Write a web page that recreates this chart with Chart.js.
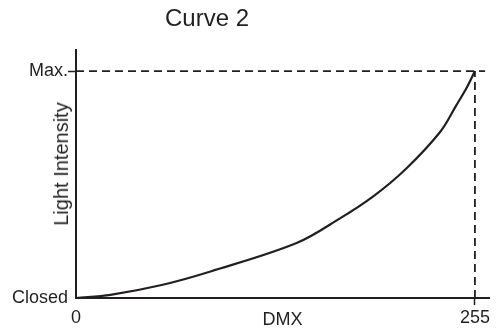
<!DOCTYPE html>
<html>
<head>
<meta charset="utf-8">
<script src="https://cdn.jsdelivr.net/npm/chart.js@4"></script>
<style>
    html, body { margin: 0; padding: 0; background: #fff; }
    #wrap { position: relative; width: 497px; height: 331px; }
    .caption {
        position: absolute; white-space: nowrap;
        font-family: "Liberation Sans", Arial, sans-serif;
        color: #231f20;
    }
    #title { left: 165px; top: 6px; font-size: 24px; line-height: 24px; }
    #yTitle {
        left: 61px; top: 164px; font-size: 20px; line-height: 20px;
        transform: translate(-50%, -50%) rotate(-90deg);
    }
</style>
</head>
<body>
<div id="wrap">
    <canvas id="curveChart" width="497" height="331"></canvas>
    <div id="title" class="caption">Curve 2</div>
    <div id="yTitle" class="caption">Light Intensity</div>
</div>
<script>
// dimmer curve: DMX value -> light output (%)
const dmxLevels = [0, 22, 54, 86, 141, 169, 190, 211, 233, 243, 250, 255]
const intensity = [0, 1.4, 5.6, 11.7, 24.2, 35.2, 44.8, 57.0, 73.4, 84.8, 93.0, 100]

const xTicks = [0, 255]
const xTickText = ["0", "255"]
const yTicks = [0, 100]
const yTickText = ["Closed", "Max."]

// guide lines for full output
const fullDmx = 255
const fullIntensity = 100
const maxLineEnd = 261.5

const ink = "#231f20"
const font = { family: "'Liberation Sans', Arial, sans-serif", size: 18 }

function createChart(){

    let htmlChart = document.getElementById("curveChart")

    let curve = dmxLevels.map((x, i) => ({ x: x, y: intensity[i] }))

    new Chart(htmlChart, {
        type: "line",
        data: {
            datasets: [
                {
                    label: "Curve 2",
                    data: curve,
                    borderColor: ink,
                    borderWidth: 2.2,
                    pointRadius: 0,
                    tension: 0.35,
                },
                {
                    label: "Max",
                    data: [{ x: 0, y: fullIntensity }, { x: maxLineEnd, y: fullIntensity }],
                    borderColor: ink,
                    borderWidth: 1.8,
                    borderDash: [8, 5],
                    pointRadius: 0,
                },
                {
                    label: "255",
                    data: [{ x: fullDmx, y: 0 }, { x: fullDmx, y: fullIntensity }],
                    borderColor: ink,
                    borderWidth: 1.8,
                    borderDash: [8, 5],
                    pointRadius: 0,
                }
            ]
        },
        options: {
            responsive: false,
            animation: false,
            layout: {
                padding: { top: 50, right: 8, left: 0, bottom: 0 }
            },
            plugins: {
                legend: { display: false },
                tooltip: { enabled: false }
            },
            scales: {
                x: {
                    type: "linear",
                    min: 0,
                    max: 264,
                    afterBuildTicks: (scale) => { scale.ticks = xTicks.map(v => ({ value: v })) },
                    afterFit: (scale) => { scale.height = 33 },
                    ticks: {
                        callback: (value) => xTickText[xTicks.indexOf(value)],
                        color: ink,
                        font: font,
                        padding: 2,
                        maxRotation: 0
                    },
                    grid: {
                        drawOnChartArea: false,
                        tickLength: 7,
                        tickWidth: 1.5,
                        tickColor: (ctx) => (ctx.tick && ctx.tick.value === 0) ? "rgba(0,0,0,0)" : ink
                    },
                    border: { color: ink, width: 2 },
                    title: {
                        display: true,
                        text: "DMX",
                        color: ink,
                        font: font,
                        padding: { top: 0, bottom: 0 }
                    }
                },
                y: {
                    type: "linear",
                    min: 0,
                    max: 109.3,
                    afterBuildTicks: (scale) => { scale.ticks = yTicks.map(v => ({ value: v })) },
                    afterFit: (scale) => { scale.width = 76 },
                    ticks: {
                        callback: (value) => yTickText[yTicks.indexOf(value)],
                        color: ink,
                        font: font,
                        padding: 0
                    },
                    grid: {
                        drawOnChartArea: false,
                        tickLength: 8,
                        tickWidth: 1.5,
                        tickColor: (ctx) => (ctx.tick && ctx.tick.value === 0) ? "rgba(0,0,0,0)" : ink
                    },
                    border: { color: ink, width: 2 }
                }
            }
        }
    })
}

createChart()
</script>
</body>
</html>
